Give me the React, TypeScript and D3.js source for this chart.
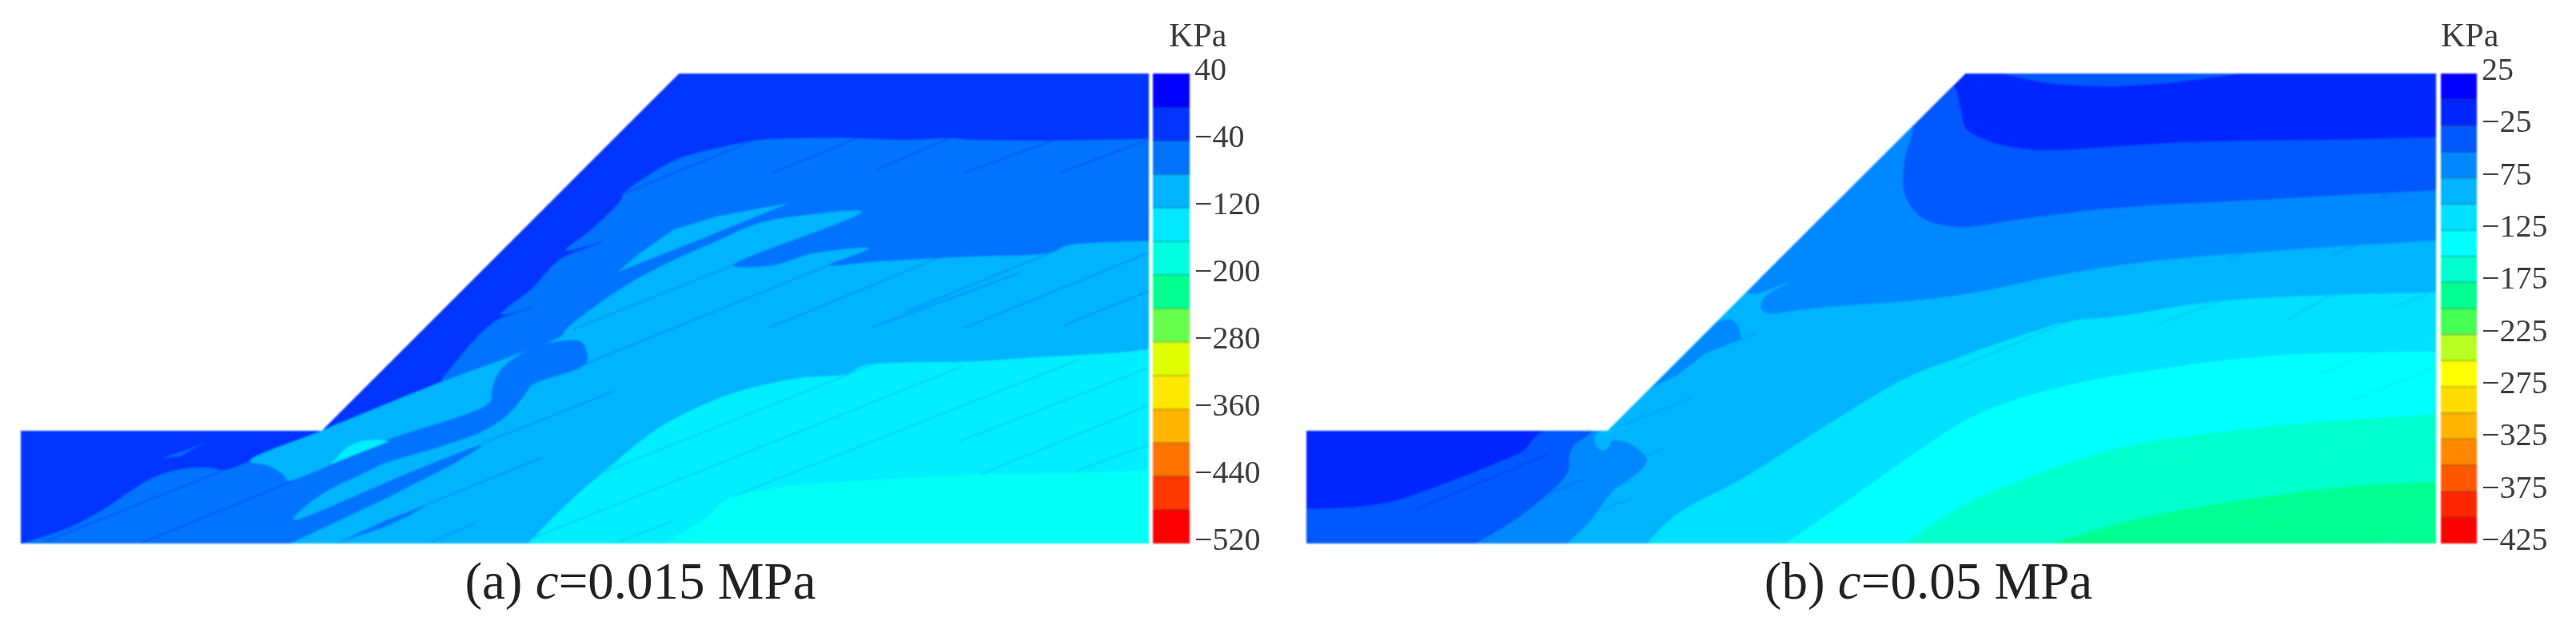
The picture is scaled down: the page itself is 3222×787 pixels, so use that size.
import React from "react";
import * as d3 from "d3";

type Pt = [number, number];
type Seg = [number, number, number, number];

// slope geometry in metres
const outline: Pt[] = [[0, 0], [0, 6], [16, 6], [35, 25], [60, 25], [60, 0]];

// (a) c = 0.015 MPa
const levelsA = [40, 0, -40, -80, -120, -160, -200, -240, -280, -320, -360, -400, -440, -480, -520];
const ticksA = [40, -40, -120, -200, -280, -360, -440, -520];
const colorsA = ["#0000ff", "#0036ff", "#0073ff", "#00b4ff", "#00e8ff", "#00ffe0", "#00ff90", "#66ff4d", "#e0ff00", "#ffe800", "#ffb400", "#ff7300", "#ff3700", "#ff0000"];
const fieldA4 = "#00eeff";
const fieldA5 = "#00fff4";

const a2: Pt[] = [[60, 21.52], [55.02, 21.43], [50.77, 21.47], [49.37, 21.56], [47.07, 21.47], [44.52, 21.56], [41.41, 21.56], [39.29, 21.47], [37.16, 21.05], [35.04, 20.49], [33.34, 19.56], [32.06, 18.62], [31.93, 18.28], [30.36, 16.71], [29, 15.6], [30.91, 16.03], [28.66, 15.09], [27.25, 13.61], [25.55, 12.2], [27.3, 12.54], [25.17, 11.78], [23, 9.48], [22.37, 8.63], [22.37, 8.46], [12.2, 4.38], [10.8, 3.91], [9.95, 4.04], [8.55, 3.95], [7.1, 3.53], [6, 2.89], [4.42, 1.83], [2.59, 0.85], [0.04, 0], [60, 0]];
const a2Sliver: Pt[] = [[7.48, 4.51], [8.55, 4.68], [9.82, 5.44], [8.97, 5.02]];
const a3: Pt[] = [[60, 16.07], [55.7, 15.86], [54.81, 15.48], [50.77, 15.26], [48.77, 15.18], [45.11, 14.97], [42.99, 14.8], [45.11, 15.69], [42.14, 15.43], [40.01, 14.8], [37.89, 14.8], [44.73, 17.65], [41.41, 17.43], [39.16, 17.01], [37.16, 16.16], [34.31, 14.88], [32.19, 13.73], [30.27, 12.42], [28.96, 11.35], [28.79, 11.06], [26.4, 10.08], [22.37, 8.59], [16, 6], [12.2, 4.38], [13.22, 4.12], [14.2, 3.32], [14.33, 0], [60, 0]];
const a3Lens: Pt[] = [[31.77, 14.46], [32.91, 15.43], [34.74, 16.71], [37.16, 17.43], [40.86, 18.11], [35.76, 16.03]];
const a2Arm: Pt[] = [[13.56, 3.4], [14.2, 3.32], [19.3, 5.44], [24.96, 7.53], [25.04, 8.08], [25.38, 9.06], [26.11, 9.78], [27.25, 10.42], [28.96, 10.8], [29.81, 10.72], [30.1, 10.2], [30.06, 9.57], [27.17, 8.42], [26.83, 7.95], [25.98, 6.93], [24.7, 6.04], [22.15, 5.1], [21, 4.76], [19.3, 4.25], [18.16, 3.7], [16.46, 2.89], [15.48, 2.25], [14.5, 1.28], [21, 3.91], [24.53, 5.23], [23.26, 4.38], [21.13, 3.27], [19.3, 2.34], [14.33, 0], [13.56, 0]];
const a2Lower: Pt[] = [[16.88, 0.04], [19.3, 0.85], [20.58, 1.45], [21.73, 2.13], [19.3, 1.19]];
const a4Island: Pt[] = [[16.46, 4.21], [17.31, 5.1], [18.03, 5.44], [18.88, 5.53], [19.6, 5.44]];
const a4: Pt[] = [[60, 10.33], [58.42, 10.16], [54.17, 9.91], [50.9, 9.69], [44.77, 9.44], [43.97, 9.01], [41.41, 8.8], [38.14, 8.08], [35.33, 6.93], [33.46, 5.83], [30.91, 3.74], [29.21, 2.25], [26.96, 0], [60, 0]];
const a5: Pt[] = [[34.19, 0], [36.31, 1.28], [37.71, 2.42], [39.71, 2.89], [41.41, 3.1], [45.66, 3.4], [50.47, 3.66], [55.44, 3.74], [60, 3.91], [60, 0]];

const jointsA1: Seg[] = [[32.06, 18.62, 38.86, 21.39], [40.01, 19.73, 44.52, 21.56], [45.54, 19.9, 49.37, 21.56], [50.22, 19.73, 54.85, 21.43], [55.28, 19.73, 59.87, 21.43], [1.23, 0.08, 10.8, 3.91], [6.42, 0.04, 14.5, 3.32]];
const jointsA2: Seg[] = [[29.38, 11.4, 37.89, 14.8], [30.06, 9.57, 42.99, 14.8], [39.8, 11.48, 48.77, 15.18], [47.07, 12.33, 54.81, 15.48], [50.22, 11.48, 60, 15.48], [55.49, 11.61, 60, 13.44], [45.2, 11.48, 53.06, 14.37], [24.53, 5.32, 31.51, 8.08], [21.73, 2.13, 27.68, 4.55], [21.86, 0.09, 24.11, 1.06]];
const jointsA3: Seg[] = [[31.08, 3.83, 45.24, 9.48], [27.25, 0.3, 50.13, 9.44], [38.01, 2.55, 56.3, 9.78], [31.76, 0.09, 34.7, 1.19], [49.92, 5.44, 60, 9.35], [51.11, 3.7, 60, 7.36], [56.13, 3.87, 60, 5.27]];

// (b) c = 0.05 MPa
const levelsB = [25, 0, -25, -50, -75, -100, -125, -150, -175, -200, -225, -250, -275, -300, -325, -350, -375, -400, -425];
const ticksB = [25, -25, -75, -125, -175, -225, -275, -325, -375, -425];
const colorsB = ["#0000ff", "#0028ff", "#0058ff", "#0088ff", "#00b4ff", "#00e0ff", "#00ffff", "#00ffcc", "#00ff90", "#44ff55", "#b8ff22", "#ffff00", "#ffdc00", "#ffb400", "#ff8800", "#ff5800", "#ff2800", "#ff0000"];

const bTop: Pt[] = [[36.98, 25], [39.15, 24.53], [42.67, 24.32], [46.15, 24.53], [49.64, 25]];
// the stretch above the slope face lies outside the model and is clipped away
const b3: Pt[] = [[60, 21.6], [54.43, 21.47], [47, 21.35], [42.67, 21.09], [39.15, 20.92], [36.98, 21.17], [35.67, 21.64], [35.03, 22.07], [34.73, 23.13], [34.43, 24.24], [33.6, 24.6], [27, 18.4], [21, 12.4], [15, 6.6], [12.65, 6], [12.02, 5.53], [11.59, 4.97], [9.85, 4.17], [6.79, 2.98], [4.63, 2.25], [2.46, 1.91], [0, 1.83], [0, 0], [60, 0]];
const b4: Pt[] = [[60, 18.79], [51.38, 18.33], [42.67, 17.82], [37.41, 17.18], [34.6, 16.84], [32.61, 17.39], [31.76, 18.67], [31.76, 20.37], [32.18, 22.28], [31.4, 22.6], [26, 17.4], [21, 12.4], [15.6, 6.8], [15.12, 5.91], [14.18, 5.19], [13.97, 4.55], [13.93, 3.95], [13.63, 3.4], [13.08, 2.85], [11.12, 1.28], [8.96, 0], [60, 0]];
const b5: Pt[] = [[60, 16.12], [51.38, 15.56], [44.84, 15.01], [40.46, 14.37], [35.24, 13.31], [31.76, 12.88], [28.28, 12.63], [26.16, 12.42], [24.46, 12.25], [24.12, 12.54], [24.33, 13.1], [25.6, 13.9], [24.03, 13.31], [22.7, 13.2], [20, 10.4], [17.6, 8], [15.8, 6.2], [15.33, 5.74], [15.33, 5.31], [15.54, 5.02], [15.84, 4.97], [16.09, 5.19], [16.18, 5.44], [16.94, 5.4], [17.66, 4.97], [18.09, 4.46], [17.96, 4.12], [17.15, 3.4], [16.35, 2.85], [15.03, 1.15], [13.84, 0], [60, 0]];
const b4Patch: Pt[] = [[18.2, 8.2], [19.79, 9.01], [20.21, 9.35], [21.19, 10.12], [23.1, 10.84], [22.97, 11.57], [22.55, 11.95], [21.8, 11.8]];
const b6: Pt[] = [[60, 13.35], [54.43, 13.22], [48.36, 12.88], [42.67, 12.03], [40.46, 11.82], [38.3, 11.18], [35.24, 10.12], [31.68, 8.72], [28.24, 6.68], [23.27, 3.53], [19.57, 1.49], [18.09, 0], [60, 0]];
const b7: Pt[] = [[60, 10.2], [51.38, 9.99], [45.26, 9.27], [40.46, 8.42], [35.67, 6.89], [31.68, 4.38], [28.7, 2.25], [25.43, 0], [60, 0]];
const b8: Pt[] = [[60, 6.89], [51.38, 6.25], [46.15, 5.61], [42.67, 4.97], [38.3, 3.49], [34.82, 2], [31.76, 0], [60, 0]];
const b9: Pt[] = [[60, 3.27], [54.86, 2.98], [47, 1.87], [42.67, 0.94], [39.62, 0], [60, 0]];

const jointsB2: Seg[] = [[5.82, 1.83, 12.87, 4.76]];
const jointsB3: Seg[] = [[13.08, 2.76, 14.69, 3.4], [57.02, 18.37, 57.58, 18.67]];
const jointsB4: Seg[] = [[15.67, 1.79, 17.32, 2.42], [18.09, 4.68, 19.02, 5.1], [16.77, 6.29, 20.47, 7.74], [23.06, 10.84, 23.9, 11.18], [42.88, 14.8, 43.99, 15.01], [49, 15.14, 50.06, 15.56], [54.48, 15.35, 56.18, 15.99]];
const jointsB5: Seg[] = [[34.6, 9.35, 40.46, 11.82], [45.26, 11.69, 48.53, 12.88], [52.06, 11.86, 54.43, 13.22], [57.79, 12.59, 59.57, 13.27]];
const jointsB6: Seg[] = [[53.75, 8.97, 57.28, 10.42], [55.58, 7.65, 59.7, 9.27], [15.67, 5.74, 17, 6.25], [16, 6, 24, 14]];
const jointsB7: Seg[] = [[53.75, 4.8, 58.98, 6.89], [44.41, 4.25, 48.66, 5.74]];
const jointsB8: Seg[] = [[44.41, 1.7, 47.9, 2.55], [49.51, 0.85, 54.86, 2.98], [57.15, 0.04, 60, 1.57]];

const serif = "'Liberation Serif', serif";
const plotTop = 92;
const plotBottom = 680;

interface Layer {
  color: string;
  points: Pt[];
  tail?: number; // closing corners on the model edge, kept straight
}

interface PanelProps {
  id: string;
  left: number;
  right: number;
  barLeft: number;
  barRight: number;
  levels: number[];
  ticks: number[];
  colors: string[];
  base: string;
  layers: Layer[];
  joints: { color: string; segs: Seg[] }[];
  prefix: string;
  param: string;
  captionX: number;
  unitX: number;
}

const Panel = (p: PanelProps) => {
  const x = d3.scaleLinear().domain([0, 60]).range([p.left, p.right]);
  const y = d3.scaleLinear().domain([0, 25]).range([plotBottom, plotTop]);
  const bar = d3.scaleLinear().domain([p.levels[0], p.levels[p.levels.length - 1]]).range([plotTop, plotBottom]);
  const poly = d3.line<Pt>().x((d) => x(d[0])).y((d) => y(d[1]));
  const curve = d3.line<Pt>().x((d) => x(d[0])).y((d) => y(d[1])).curve(d3.curveCatmullRom.alpha(0.5));
  const closed = (pts: Pt[]) => poly(pts) + "Z";
  const band = (l: Layer) => {
    if (!l.tail) return closed(l.points);
    const n = l.points.length - l.tail;
    const rest = l.points.slice(n).map((d) => `L${x(d[0])},${y(d[1])}`).join("");
    return curve(l.points.slice(0, n)) + rest + "Z";
  };

  return (
    <g>
      <clipPath id={p.id}>
        <path d={closed(outline)} />
      </clipPath>
      <g filter="url(#soft)">
        <g clipPath={`url(#${p.id})`}>
          <path d={closed(outline)} fill={p.base} />
          {p.layers.map((l, i) => (
            <path key={i} d={band(l)} fill={l.color} />
          ))}
          {p.joints.map((j, i) =>
            j.segs.map((s, k) => (
              <line key={`${i}-${k}`} x1={x(s[0])} y1={y(s[1])} x2={x(s[2])} y2={y(s[3])} stroke={j.color} strokeOpacity={0.65} strokeWidth={1.4} />
            ))
          )}
        </g>
        {p.colors.map((c, i) => (
          <rect key={c + i} x={p.barLeft} width={p.barRight - p.barLeft} y={bar(p.levels[i])} height={bar(p.levels[i + 1]) - bar(p.levels[i])} fill={c} />
        ))}
        {p.levels.slice(1, -1).map((v) => (
          <line key={v} x1={p.barLeft} x2={p.barRight} y1={bar(v)} y2={bar(v)} stroke="#000" strokeOpacity={0.4} strokeWidth={1.2} />
        ))}
      </g>
      <g filter="url(#softText)" fontFamily={serif}>
        <text x={p.unitX} y={58} fontSize={42} fill="#3c3c3c">KPa</text>
        {p.ticks.map((t) => (
          <text key={t} x={p.barRight + 6} y={bar(t) + 8} fontSize={40} fill="#3c3c3c">
            {t < 0 ? "\u2212" + Math.abs(t) : t}
          </text>
        ))}
        <text x={p.captionX} y={749} textAnchor="middle" fontSize={65} fill="#222">
          {p.prefix} <tspan fontStyle="italic">c</tspan>={p.param} MPa
        </text>
      </g>
    </g>
  );
};

export default function App() {
  return (
    <svg width={3222} height={787} style={{ position: "absolute", left: 0, top: 0, background: "#fff" }}>
      <defs>
        <filter id="soft" x="-2%" y="-2%" width="104%" height="104%">
          <feGaussianBlur stdDeviation={0.8} />
        </filter>
        <filter id="softText" x="-2%" y="-2%" width="104%" height="104%">
          <feGaussianBlur stdDeviation={0.5} />
        </filter>
      </defs>
      <Panel
        id="clipA"
        left={26}
        right={1437}
        barLeft={1442}
        barRight={1488}
        levels={levelsA}
        ticks={ticksA}
        colors={colorsA}
        base={colorsA[1]}
        layers={[
          { color: colorsA[2], points: a2, tail: 1 },
          { color: colorsA[2], points: a2Sliver },
          { color: colorsA[3], points: a3, tail: 1 },
          { color: colorsA[3], points: a3Lens },
          { color: colorsA[2], points: a2Arm, tail: 2 },
          { color: colorsA[2], points: a2Lower },
          { color: fieldA4, points: a4Island },
          { color: fieldA4, points: a4, tail: 1 },
          { color: fieldA5, points: a5, tail: 1 },
        ]}
        joints={[
          { color: colorsA[1], segs: jointsA1 },
          { color: colorsA[2], segs: jointsA2 },
          { color: colorsA[3], segs: jointsA3 },
        ]}
        prefix="(a)"
        param="0.015"
        captionX={801}
        unitX={1462}
      />
      <Panel
        id="clipB"
        left={1634}
        right={3047}
        barLeft={3053}
        barRight={3098}
        levels={levelsB}
        ticks={ticksB}
        colors={colorsB}
        base={colorsB[1]}
        layers={[
          { color: colorsB[2], points: bTop, tail: 1 },
          { color: colorsB[2], points: b3, tail: 2 },
          { color: colorsB[3], points: b4, tail: 1 },
          { color: colorsB[4], points: b5, tail: 1 },
          { color: colorsB[3], points: b4Patch },
          { color: colorsB[5], points: b6, tail: 1 },
          { color: colorsB[6], points: b7, tail: 1 },
          { color: colorsB[7], points: b8, tail: 1 },
          { color: colorsB[8], points: b9, tail: 1 },
        ]}
        joints={[
          { color: colorsB[1], segs: jointsB2 },
          { color: colorsB[2], segs: jointsB3 },
          { color: colorsB[3], segs: jointsB4 },
          { color: colorsB[4], segs: jointsB5 },
          { color: colorsB[5], segs: jointsB6 },
          { color: colorsB[6], segs: jointsB7 },
          { color: colorsB[7], segs: jointsB8 },
        ]}
        prefix="(b)"
        param="0.05"
        captionX={2412}
        unitX={3053}
      />
    </svg>
  );
}
